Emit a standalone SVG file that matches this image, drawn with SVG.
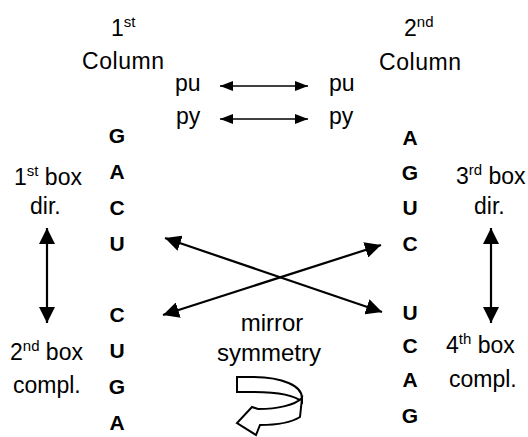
<svg xmlns="http://www.w3.org/2000/svg" width="528" height="437" viewBox="0 0 528 437">
<style>
text{font-family:"Liberation Sans",Arial,sans-serif;fill:#000}
.t{font-size:23px}
.sup{font-size:15px}
.m{font-size:24px;text-anchor:middle}
.b{font-size:21px;font-weight:bold;text-anchor:middle}
.thin{stroke:#000;stroke-width:1.3;fill:none;marker-start:url(#hs);marker-end:url(#hs)}
.thick{stroke:#000;stroke-width:2.2;fill:none;marker-start:url(#hb);marker-end:url(#hb)}
.rib{fill:#fff;stroke:#000;stroke-width:2;stroke-linejoin:miter}
</style>
<defs>
<marker id="hs" markerUnits="userSpaceOnUse" viewBox="0 0 13 10" refX="13" refY="5" markerWidth="13" markerHeight="10" orient="auto-start-reverse"><path d="M0,0 L13,5 L0,10 Z" fill="#000"/></marker>
<marker id="hb" markerUnits="userSpaceOnUse" viewBox="0 0 16 16" refX="16" refY="8" markerWidth="16" markerHeight="16" orient="auto-start-reverse"><path d="M0,0 L16,8 L0,16 Z" fill="#000"/></marker>
</defs>
<g id="col1-header">
<text class="t" x="111" y="36">1<tspan class="sup" dy="-9">st</tspan></text>
<text class="t" x="82" y="69" textLength="82">Column</text>
</g>
<g id="col2-header">
<text class="t" x="404" y="36">2<tspan class="sup" dy="-9">nd</tspan></text>
<text class="t" x="379" y="70" textLength="82">Column</text>
</g>
<g id="pu-left"><text class="t" x="175" y="91">pu</text></g>
<g id="py-left"><text class="t" x="176" y="124">py</text></g>
<g id="pu-right"><text class="t" x="329" y="91">pu</text></g>
<g id="py-right"><text class="t" x="329" y="124">py</text></g>
<g id="col1-letters">
<text class="b" x="117" y="143">G</text>
<text class="b" x="117" y="179">A</text>
<text class="b" x="117" y="215">C</text>
<text class="b" x="117" y="251">U</text>
<text class="b" x="117" y="322">C</text>
<text class="b" x="117" y="358">U</text>
<text class="b" x="117" y="394">G</text>
<text class="b" x="117" y="430">A</text>
</g>
<g id="col2-letters">
<text class="b" x="410" y="145">A</text>
<text class="b" x="410" y="180">G</text>
<text class="b" x="410" y="215">U</text>
<text class="b" x="410" y="251">C</text>
<text class="b" x="410" y="320">U</text>
<text class="b" x="410" y="353">C</text>
<text class="b" x="410" y="387">A</text>
<text class="b" x="410" y="423">G</text>
</g>
<g id="box1">
<text class="t" x="14" y="185">1<tspan class="sup" dy="-9">st</tspan><tspan dy="9"> box</tspan></text>
<text class="t" x="30" y="214">dir.</text>
</g>
<g id="box2">
<text class="t" x="10" y="360">2<tspan class="sup" dy="-9">nd</tspan><tspan dy="9"> box</tspan></text>
<text class="t" x="13" y="393">compl.</text>
</g>
<g id="box3">
<text class="t" x="456" y="184">3<tspan class="sup" dy="-9">rd</tspan><tspan dy="9"> box</tspan></text>
<text class="t" x="474" y="214">dir.</text>
</g>
<g id="box4">
<text class="t" x="446" y="353">4<tspan class="sup" dy="-9">th</tspan><tspan dy="9"> box</tspan></text>
<text class="t" x="449" y="387">compl.</text>
</g>
<g id="mirror-label">
<text class="m" x="272" y="331">mirror</text>
<text class="m" x="269" y="361">symmetry</text>
</g>
<g id="curved-arrow">
<path class="rib" d="M237,377 L252,377 C283,377 302,386 302,398 L302,402 C296,396 280,392 252,392 L237,392 Z"/>
<path class="rib" d="M302,398 L300,417 C292,422 278,425 260,425 L256,435 L237,423 L252,407 L258,409 C278,409 295,405 302,398 Z"/>
</g>
<g id="connectors">
<line class="thin" x1="220" y1="86" x2="308" y2="86"/>
<line class="thin" x1="220" y1="119" x2="308" y2="119"/>
<line class="thick" x1="47" y1="228" x2="47" y2="323"/>
<line class="thick" x1="491" y1="228" x2="491" y2="323"/>
<line class="thick" x1="165" y1="238" x2="382" y2="312"/>
<line class="thick" x1="163" y1="315" x2="381" y2="245"/>
</g>
</svg>
